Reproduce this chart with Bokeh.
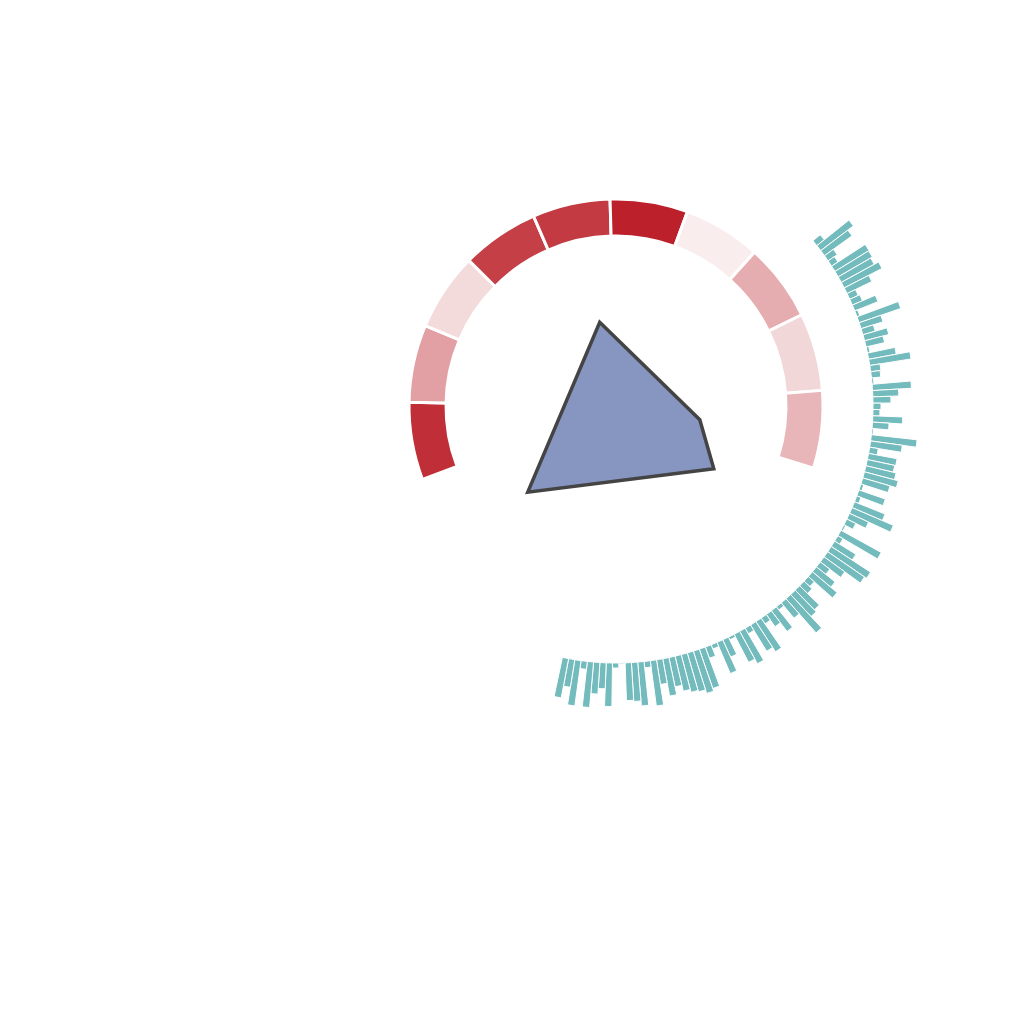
import numpy as np
from bokeh.plotting import figure
from bokeh.models import Range1d, ColumnDataSource, LinearColorMapper
from bokeh.embed import file_html
from bokeh.resources import INLINE

# ---- data ----
# outer ring: 10 categories, colour intensity 0..1
ring_values = [0.92, 0.375, 0.10, 0.84, 0.865, 0.985, 0.01, 0.32, 0.115, 0.28]

# radial bar series (101 bars)
bar_values = [
    9.5, 41, 34, 11, 7.6, 40, 39.5, 37.6, 42.5, 27.5,
    9.3, 11, 25, 3, 44, 23, 12.8, 25, 19, 2.6,
    28, 41.8, 10.3, 9.4, 2, 39, 26, 18, 8, 7,
    30, 16.6, 1.5, 46, 32, 8.7, 29, 28, 31, 35,
    28.4, 3, 28, 4.5, 33, 45, 21, 10, 2, 46,
    6, 25, 47, 44.7, 25.6, 12, 24, 32.3, 8, 11,
    27.5, 30, 45.5, 20, 4, 26, 15, 7, 36, 30.8,
    6.4, 37, 31.6, 3, 19, 34, 4.6, 12, 41.6, 44.4,
    40.6, 39, 36, 30, 38, 25, 45.7, 6.4, 44, 39,
    37.8, 1, 5, 43.6, 26, 31.7, 45.7, 8, 45.7, 28,
    40,
]

# central polygon: (compass angle in degrees, radius)
poly_angles = [349.0, 99.3, 122.7, 225.7]
poly_radii = [85.3, 84.9, 116.2, 123.3]

# ---- geometry / style ----
RING_START = 249.2
RING_STEP = 21.83
RING_IN, RING_OUT = 170.0, 207.0
BAR_START = 50.0
BAR_STEP = 360.0 / 256.0
BAR_IN = 257.0

light = np.array([249, 239, 239])
dark = np.array([187, 30, 40])
palette = []
for t in np.linspace(0, 1, 256):
    c = light + (dark - light) * t
    palette.append("#%02x%02x%02x" % tuple(int(round(v)) for v in c))
mapper = LinearColorMapper(palette=palette, low=0, high=1)

p = figure(width=1008, height=1008, output_backend="svg", toolbar_location=None,
           x_range=Range1d(-615.5, 392.5), y_range=Range1d(-602.5, 405.5),
           min_border=0)
p.axis.visible = False
p.grid.visible = False
p.outline_line_color = None
p.background_fill_color = "white"

def to_math(c):
    return np.deg2rad(90.0 - np.asarray(c, dtype=float))

# ring
n = len(ring_values)
c1 = RING_START + RING_STEP * np.arange(n)
c2 = c1 + RING_STEP
ring_src = ColumnDataSource(dict(start=to_math(c2), end=to_math(c1), v=ring_values))
p.annular_wedge(x=0, y=0, inner_radius=RING_IN, outer_radius=RING_OUT,
                start_angle="start", end_angle="end", source=ring_src,
                fill_color={"field": "v", "transform": mapper},
                line_color="white", line_width=3)

# bars
m = len(bar_values)
b1 = BAR_START + BAR_STEP * np.arange(m)
b2 = b1 + BAR_STEP
bar_src = ColumnDataSource(dict(start=to_math(b2), end=to_math(b1),
                                outer=BAR_IN + np.array(bar_values, dtype=float)))
p.annular_wedge(x=0, y=0, inner_radius=BAR_IN, outer_radius="outer",
                start_angle="start", end_angle="end", source=bar_src,
                fill_color="#73bbbc", line_color="white", line_width=1)

# polygon
pa = np.deg2rad(np.array(poly_angles))
pr = np.array(poly_radii)
px = pr * np.sin(pa)
py = pr * np.cos(pa)
p.patch(px, py, fill_color="#8795c1", line_color="#444444", line_width=3.5,
        line_join="miter")

open("out.html", "w").write(file_html(p, INLINE))
